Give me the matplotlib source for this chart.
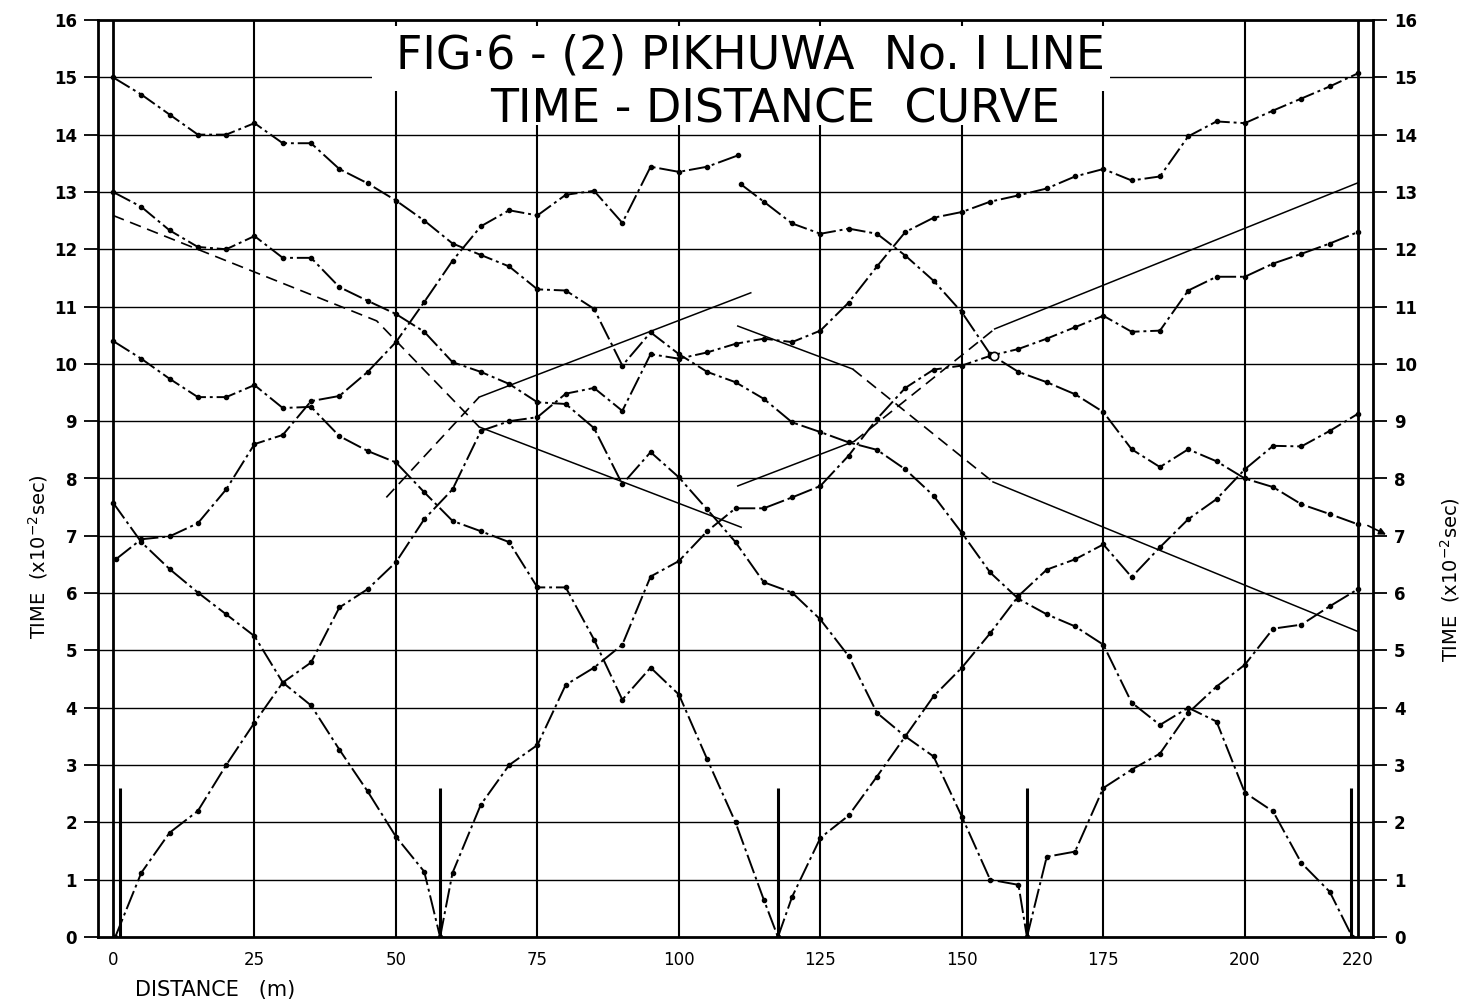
import matplotlib
matplotlib.use('Agg')
import matplotlib.pyplot as plt
from matplotlib.patches import Rectangle

# travel-time curves, distance in m, time in 1/100 s
t1_x = [0, 5, 10, 15, 20, 25, 30, 35, 40, 45, 50, 55, 60, 65, 70, 75, 80, 85, 90, 95, 100,
        105, 110, 115, 120, 125, 130, 135, 140, 145, 150, 155, 160, 165, 170, 175, 180,
        185, 190, 195, 200, 205, 210, 215, 219]
t1_t = [15.0, 14.7, 14.35, 14.0, 14.0, 14.2, 13.85, 13.85, 13.4, 13.15, 12.85, 12.5, 12.1,
        11.9, 11.7, 11.3, 11.28, 10.96, 9.97, 10.55, 10.17, 9.86, 9.68, 9.39, 8.98, 8.81,
        8.63, 8.5, 8.16, 7.7, 7.05, 6.36, 5.9, 5.63, 5.42, 5.1, 4.09, 3.7, 4.0, 3.76, 2.52,
        2.19, 1.29, 0.79, 0.0]

t2_x = [0, 5, 10, 15, 20, 25, 30, 35, 40, 45, 50, 55, 60, 65, 70, 75, 80, 85, 90, 95, 100,
        105, 110, 115, 120, 125, 130, 135, 140, 145, 150, 155, 160, 161.5]
t2_t = [13.0, 12.74, 12.33, 12.04, 12.0, 12.23, 11.85, 11.85, 11.34, 11.1, 10.87, 10.56,
        10.03, 9.86, 9.65, 9.33, 9.3, 8.88, 7.9, 8.46, 8.02, 7.46, 6.89, 6.19, 6.01, 5.54,
        4.9, 3.91, 3.5, 3.15, 2.1, 1.0, 0.91, 0.0]

t3_x = [0, 5, 10, 15, 20, 25, 30, 35, 40, 45, 50, 55, 60, 65, 70, 75, 80, 85, 90, 95, 100,
        105, 110, 115, 117.5]
t3_t = [10.4, 10.09, 9.74, 9.42, 9.42, 9.63, 9.23, 9.25, 8.74, 8.48, 8.28, 7.76, 7.26, 7.08,
        6.89, 6.1, 6.1, 5.19, 4.14, 4.7, 4.23, 3.1, 2.0, 0.65, 0.0]

t4_x = [0, 5, 10, 15, 20, 25, 30, 35, 40, 45, 50, 55, 57.8]
t4_t = [7.58, 6.89, 6.42, 6.01, 5.63, 5.25, 4.44, 4.04, 3.27, 2.54, 1.75, 1.14, 0.0]

r1_x = [0.4, 5, 10, 15, 20, 25, 30, 35, 40, 45, 50, 55, 60, 65, 70, 75, 80, 85, 90, 95, 100,
        105, 110, 115, 120, 125, 130, 135, 140, 145, 150, 155, 160, 165, 170, 175, 180,
        185, 190, 195, 200, 205, 210, 215, 220]
r1_t = [0.0, 1.12, 1.82, 2.2, 3.0, 3.74, 4.44, 4.79, 5.75, 6.07, 6.54, 7.29, 7.81, 8.83, 9.0,
        9.07, 9.48, 9.58, 9.18, 10.17, 10.09, 10.2, 10.35, 10.44, 10.38, 10.58, 11.07, 11.7,
        12.3, 12.55, 12.65, 12.83, 12.94, 13.06, 13.27, 13.4, 13.2, 13.27, 13.97, 14.23,
        14.2, 14.42, 14.63, 14.84, 15.07]

r0_x = [0.5, 5, 10, 15, 20, 25, 30, 35, 40, 45, 50, 55, 60, 65, 70, 75, 80, 85, 90, 95, 100,
        105, 110.5]
r0_t = [6.59, 6.94, 6.99, 7.22, 7.81, 8.6, 8.76, 9.35, 9.44, 9.86, 10.38, 11.08, 11.8, 12.4,
        12.68, 12.59, 12.95, 13.02, 12.46, 13.44, 13.35, 13.44, 13.64]

u1_x = [111, 115, 120, 125, 130, 135, 140, 145, 150, 155, 160, 165, 170, 175, 180, 185, 190,
        195, 200, 205, 210, 215, 220]
u1_t = [13.13, 12.83, 12.45, 12.27, 12.36, 12.27, 11.89, 11.45, 10.9, 10.17, 9.86, 9.68, 9.47,
        9.16, 8.51, 8.2, 8.51, 8.3, 8.0, 7.85, 7.55, 7.38, 7.2]

r2_x = [57.8, 60, 65, 70, 75, 80, 85, 90, 95, 100, 105, 110, 115, 120, 125, 130, 135, 140,
        145, 150, 155, 160, 165, 170, 175, 180, 185, 190, 195, 200, 205, 210, 215, 220]
r2_t = [0.0, 1.12, 2.31, 3.0, 3.35, 4.4, 4.7, 5.1, 6.29, 6.56, 7.08, 7.48, 7.48, 7.67, 7.87,
        8.4, 9.04, 9.58, 9.9, 9.97, 10.14, 10.26, 10.44, 10.64, 10.84, 10.56, 10.58, 11.28,
        11.52, 11.52, 11.75, 11.92, 12.1, 12.3]

r3_x = [117.5, 120, 125, 130, 135, 140, 145, 150, 155, 160, 165, 170, 175, 180, 185, 190,
        195, 200, 205, 210, 215, 220]
r3_t = [0.0, 0.7, 1.73, 2.12, 2.8, 3.5, 4.2, 4.7, 5.3, 5.95, 6.41, 6.59, 6.85, 6.28, 6.8,
        7.29, 7.64, 8.16, 8.57, 8.56, 8.83, 9.13]

r4_x = [161.5, 165, 170, 175, 180, 185, 190, 195, 200, 205, 210, 215, 220]
r4_t = [0.0, 1.4, 1.49, 2.6, 2.92, 3.2, 3.91, 4.37, 4.75, 5.38, 5.45, 5.77, 6.07]

curves = [(t1_x, t1_t), (t2_x, t2_t), (t3_x, t3_t), (t4_x, t4_t), (r0_x, r0_t),
          (r1_x, r1_t), (u1_x, u1_t), (r2_x, r2_t), (r3_x, r3_t), (r4_x, r4_t)]

# interpreted straight lines: (dashed part, solid part)
s1_dash = ([0, 46.6, 64.7], [12.59, 10.75, 8.9])
s1_solid = ([64.7, 111], [8.9, 7.15])
s2_dash = ([48.3, 64.7], [7.67, 9.42])
s2_solid = ([64.7, 112.7], [9.42, 11.24])
s3_solid_a = ([110.4, 130.7], [10.66, 9.91])
s3_dash = ([130.7, 155.5], [9.91, 7.94])
s3_solid_b = ([155.5, 220], [7.94, 5.33])
s4_solid_a = ([110.4, 131], [7.87, 8.65])
s4_dash = ([131, 155.8], [8.65, 10.61])
s4_solid_b = ([155.8, 220], [10.61, 13.16])

shots = [1.2, 57.8, 117.5, 161.5, 218.8]
shot_top = 2.6

x_ticks = [0, 25, 50, 75, 100, 125, 150, 175, 200, 220]

fig = plt.figure(figsize=(14.65, 10.05), dpi=100)
ax = fig.add_axes([98 / 1465, 68 / 1005, 1275 / 1465, 917 / 1005])
ax.set_xlim(-2.65, 222.65)
ax.set_ylim(0, 16)

# grid
ax.hlines(range(1, 16), -2.65, 222.65, color='black', lw=1.0, zorder=1)
ax.vlines(range(25, 201, 25), 0, 16, color='black', lw=1.5, zorder=1)
ax.vlines([0, 220], 0, 16, color='black', lw=2.0, zorder=1)

# white boxes behind the title lines
ax.add_patch(Rectangle((45.8, 14.76), 130.4, 1.14, facecolor='white',
                       edgecolor='none', zorder=2))
ax.add_patch(Rectangle((51.5, 14.16), 120.5, 0.62, facecolor='white',
                       edgecolor='none', zorder=2))

for xs, ts in curves:
    ax.plot(xs, ts, color='black', lw=1.4, dashes=(10, 2, 1.5, 2), zorder=3)
    ax.plot(xs, ts, ls='none', marker='o', ms=3.0, color='black', zorder=3)

for xs, ts in [s1_dash, s2_dash, s3_dash, s4_dash]:
    ax.plot(xs, ts, color='black', lw=1.2, dashes=(7, 4), zorder=3)
for xs, ts in [s1_solid, s2_solid, s3_solid_a, s3_solid_b, s4_solid_a, s4_solid_b]:
    ax.plot(xs, ts, color='black', lw=1.1, zorder=3)

ax.vlines(shots, 0, shot_top, color='black', lw=2.2, zorder=3)
ax.plot([155.6], [10.14], marker='o', ms=6, mfc='white', mec='black', mew=1.2, zorder=4)
ax.annotate('', xy=(225.4, 7.0), xytext=(221.3, 7.2), annotation_clip=False,
            arrowprops=dict(arrowstyle='-|>', color='black', lw=1.2, mutation_scale=10))

for s in ax.spines.values():
    s.set_linewidth(2.0)

ax.set_yticks(range(17))
ax.set_xticks(x_ticks)
ax.tick_params(axis='y', direction='out', length=10, width=1.3, labelsize=12,
               left=True, right=True, labelleft=True, labelright=True, pad=5)
ax.tick_params(axis='x', length=0, labelsize=12, pad=10)
for lab in ax.get_yticklabels():
    lab.set_fontweight('bold')

ax.text(0.512, 0.944, 'FIG·6 - (2) PIKHUWA  No. I LINE', transform=fig.transFigure,
        ha='center', va='center', fontsize=33, zorder=5)
ax.text(0.529, 0.891, 'TIME - DISTANCE  CURVE', transform=fig.transFigure,
        ha='center', va='center', fontsize=33, zorder=5)

fig.text(38 / 1465, 1 - 557 / 1005, 'TIME  (x10$^{-2}$sec)', rotation=90,
         ha='center', va='center', fontsize=14)
fig.text(1450 / 1465, 1 - 580 / 1005, 'TIME  (x10$^{-2}$sec)', rotation=90,
         ha='center', va='center', fontsize=14)
fig.text(135 / 1465, 1 - 990 / 1005, 'DISTANCE   (m)', ha='left', va='center', fontsize=15)

fig.savefig('out.png', dpi=100)
